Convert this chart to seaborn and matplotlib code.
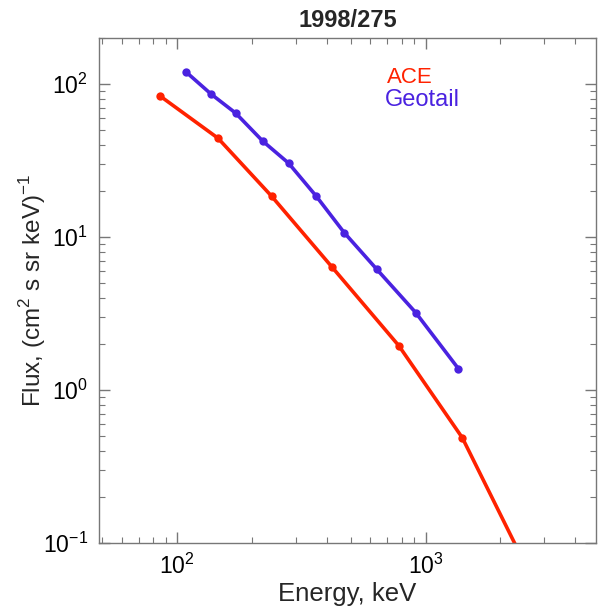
import numpy as np
import pandas as pd
import seaborn as sns
import matplotlib.pyplot as plt

# values
ace_energy = [85.5, 146, 240, 421, 780, 1406, 2500]
ace_flux = [83.4, 44.3, 18.5, 6.34, 1.95, 0.487, 0.074]
geo_energy = [108.6, 137, 172, 221, 281, 363, 470, 637, 912, 1355]
geo_flux = [120, 86, 64.6, 42.4, 30.4, 18.5, 10.7, 6.14, 3.21, 1.38]

ace_color = '#ff2200'
geo_color = '#4a22e0'

sns.set_style('ticks')
plt.rcParams['font.family'] = ['Liberation Sans', 'DejaVu Sans']
plt.rcParams['mathtext.fontset'] = 'custom'
plt.rcParams['mathtext.rm'] = 'Liberation Sans'

fig = plt.figure(figsize=(5.98, 6.11), dpi=100, facecolor='white')
ax = fig.add_axes([0.1656, 0.1113, 0.831, 0.8265])

df_ace = pd.DataFrame({'energy': ace_energy, 'flux': ace_flux})
df_geo = pd.DataFrame({'energy': geo_energy, 'flux': geo_flux})

sns.lineplot(data=df_ace, x='energy', y='flux', ax=ax, color=ace_color,
             linewidth=2.6, marker='o', markersize=6, markeredgewidth=0,
             estimator=None, sort=False)
sns.lineplot(data=df_geo, x='energy', y='flux', ax=ax, color=geo_color,
             linewidth=2.6, marker='o', markersize=6, markeredgewidth=0,
             estimator=None, sort=False)

ax.set_xscale('log')
ax.set_yscale('log')
ax.set_xlim(48.5, 4850)
ax.set_ylim(0.1, 200)

ax.tick_params(which='both', direction='in', top=True, right=True,
               color='#777777', labelsize=16.5, labelcolor='black')
ax.tick_params(which='major', length=8, width=1, pad=8)
ax.tick_params(which='minor', length=4, width=0.8)
for s in ax.spines.values():
    s.set_color('#777777')
    s.set_linewidth(1)

ax.set_xlabel('Energy, keV', fontsize=18.5, labelpad=2)
ax.set_ylabel('Flux, (cm$^2$ s sr keV)$^{-1}$', fontsize=17.5)
ax.yaxis.set_label_coords(-0.103, 0.5)
ax.set_title('1998/275', fontsize=17, fontweight='bold', pad=8)

# legend as coloured text
ax.text(0.58, 0.921, 'ACE', transform=ax.transAxes, color=ace_color,
        fontsize=16, va='center', ha='left')
ax.text(0.576, 0.877, 'Geotail', transform=ax.transAxes, color=geo_color,
        fontsize=17, va='center', ha='left')

plt.savefig('out.png', dpi=100, facecolor='white')
